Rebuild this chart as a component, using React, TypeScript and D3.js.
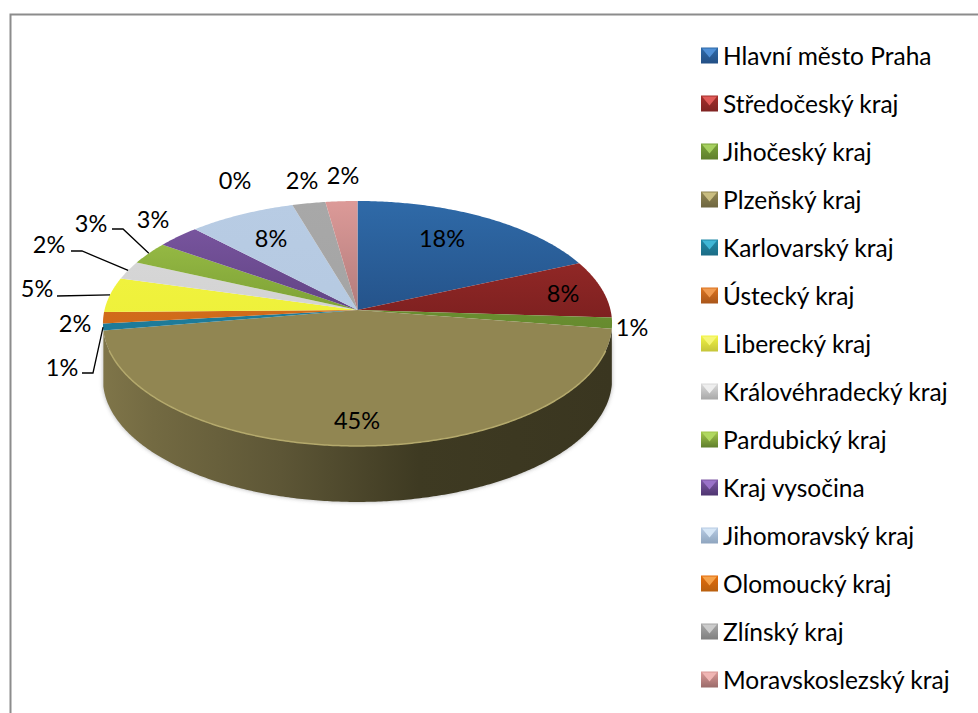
import React from "react";
import * as d3 from "d3";

const categories = ["Hlavní město Praha","Středočeský kraj","Jihočeský kraj","Plzeňský kraj","Karlovarský kraj","Ústecký kraj","Liberecký kraj","Královéhradecký kraj","Pardubický kraj","Kraj vysočina","Jihomoravský kraj","Olomoucký kraj","Zlínský kraj","Moravskoslezský kraj"];
const values = [18.4,7.6,1.45,44.95,0.9,1.5,4.6,2.4,3.0,3.1,7.6,0,2.35,2.25];
const topColors = ["#2f6aa8","#a52f2c","#7aa33a","#918652","#2189a8","#dd7420","#f2f542","#dadada","#a4c84c","#7f5aa6","#b8cce4","#e46c0a","#a8a8a8","#dc9a98"];
const bottomColors = ["#234f85","#7a1f1f","#668a2e","#918652","#1d7a98","#cf6a1a","#eef03a","#d2d2d2","#769a32","#5c3f7e","#b5c9e1","#e46c0a","#a4a4a4","#ab7676"];
const legendDark = ["#234f85","#7f2322","#5f7f2c","#6e6640","#1b6c85","#a9561a","#c5c53a","#a8a8a8","#5f7f2c","#4e3570","#8fa5bf","#b9600f","#808080","#9a6b6a"];
const legendLight = ["#4f8fd6","#e05a58","#a6d060","#c9bd80","#3fb6d6","#f09a50","#f6f676","#eeeeee","#b0d860","#9a72c8","#d6e6f6","#f6a24a","#cccccc","#f0b6b4"];

// Label centres, in picture coordinates, one per category.
const labelX = [442,563,632,357,62,75,37,49,91,153,271,235,302,343];
const labelY = [238,293,327,420,367,323,288,244,223,219,238,180,180,175];
// Elbow and outer end of leader lines, by category index.
const leaders: Record<number, [number, number][]> = {
  4: [[82,373],[93,373]],
  6: [[57,296]],
  7: [[71,251],[82,251]],
  8: [[112,229],[123,229]],
};

const W = 978, H = 713;
const apexX = 357.5, apexY = 310;
const D = 253, A = 121, C = 0.11, depth = 56;
const FONT = "Lato, Carlito, Calibri, sans-serif";

// perspective projection of a unit disc lying on the table
const project = (ang: number): [number, number] => {
  const x = Math.sin(ang), y = -Math.cos(ang);
  const w = 1 - C * y;
  return [apexX + (D * x) / w, apexY + (A * y) / w];
};

const pieGen = d3.pie<number>().sort(null).value((v) => v);
const arcs = pieGen(values);
const lineGen = d3.line<[number, number]>().curve(d3.curveLinear);

const rim = (a0: number, a1: number): [number, number][] => {
  const n = Math.max(2, Math.ceil(Math.abs(a1 - a0) / 0.01));
  return d3.range(n + 1).map((i) => project(a0 + ((a1 - a0) * i) / n));
};
const slicePath = (a0: number, a1: number) =>
  lineGen([[apexX, apexY], ...rim(a0, a1)]) + "Z";

const plzen = arcs[3];
const frontRim = rim(plzen.startAngle, plzen.endAngle);
const sidePoly = [
  ...frontRim,
  ...frontRim.slice().reverse().map(([x, y]): [number, number] => [x, y + depth]),
];
const sidePath = lineGen(sidePoly) + "Z";
const rimLine = lineGen(frontRim.filter((p) => p[1] > 350)) || "";

const legendY = d3.scalePoint<string>().domain(categories).range([55, 679]);

export default function App() {
  return (
    <svg width={W} height={H} viewBox={`0 0 ${W} ${H}`} style={{ position: "absolute", left: 0, top: 0, background: "#fff" }} fontFamily={FONT}>
      <defs>
        <filter id="soft" x="-5%" y="-5%" width="110%" height="110%"><feGaussianBlur stdDeviation="2.2" /></filter>
        <linearGradient id="side" gradientUnits="userSpaceOnUse" x1="103" x2="612" y1="0" y2="0">
          <stop offset="0" stopColor="#7f7549" />
          <stop offset="0.1" stopColor="#736a42" />
          <stop offset="0.35" stopColor="#5d5636" />
          <stop offset="0.62" stopColor="#3e3a22" />
          <stop offset="1" stopColor="#3a3620" />
        </linearGradient>
        {categories.map((_, i) => (
          <linearGradient key={i} id={`top${i}`} gradientUnits="userSpaceOnUse" x1="0" x2="0" y1="201" y2="330">
            <stop offset="0" stopColor={topColors[i]} />
            <stop offset="1" stopColor={bottomColors[i]} />
          </linearGradient>
        ))}
        {categories.map((_, i) => (
          <linearGradient key={i} id={`sw${i}`} x1="0" x2="0" y1="0" y2="1">
            <stop offset="0" stopColor={topColors[i]} />
            <stop offset="1" stopColor={legendDark[i]} />
          </linearGradient>
        ))}
      </defs>

      <path d={`M10.5 ${H}V14.5H${W}`} fill="none" stroke="#8c8c8c" strokeWidth={2} />

      <path d={sidePath} fill="#9a9a9a" filter="url(#soft)" opacity={0.8} />
      <path d={sidePath} fill="url(#side)" />
      {arcs.map((a, i) => (
        <path key={i} d={slicePath(a.startAngle, a.endAngle)} fill={`url(#top${i})`} />
      ))}
      <path d={rimLine} fill="none" stroke="#b4a96c" strokeWidth={1.5} />

      {arcs.map((a, i) => {
        const tail = leaders[i];
        if (!tail) return null;
        const mid = project((a.startAngle + a.endAngle) / 2);
        return <path key={i} d={lineGen([...tail, mid]) || ""} fill="none" stroke="#000" strokeWidth={1.3} />;
      })}

      {values.map((v, i) => (
        <text key={i} x={labelX[i]} y={labelY[i]} textAnchor="middle" dominantBaseline="central" fontSize={23.5} fill="#000">
          {`${Math.round(v)}%`}
        </text>
      ))}

      {categories.map((c, i) => {
        const y = legendY(c)!;
        const x0 = 701, y0 = y - 7.5, s = 16;
        return (
          <g key={c}>
            <rect x={x0} y={y0} width={s + 1} height={s} fill={`url(#sw${i})`} />
            <path d={`M${x0 + 1} ${y0 + 1}H${x0 + s}L${x0 + s / 2 + 0.5} ${y0 + s * 0.62}Z`} fill={legendLight[i]} />
            <text x={723} y={y} dominantBaseline="central" fontSize={24.5} fill="#000">{c}</text>
          </g>
        );
      })}
    </svg>
  );
}
